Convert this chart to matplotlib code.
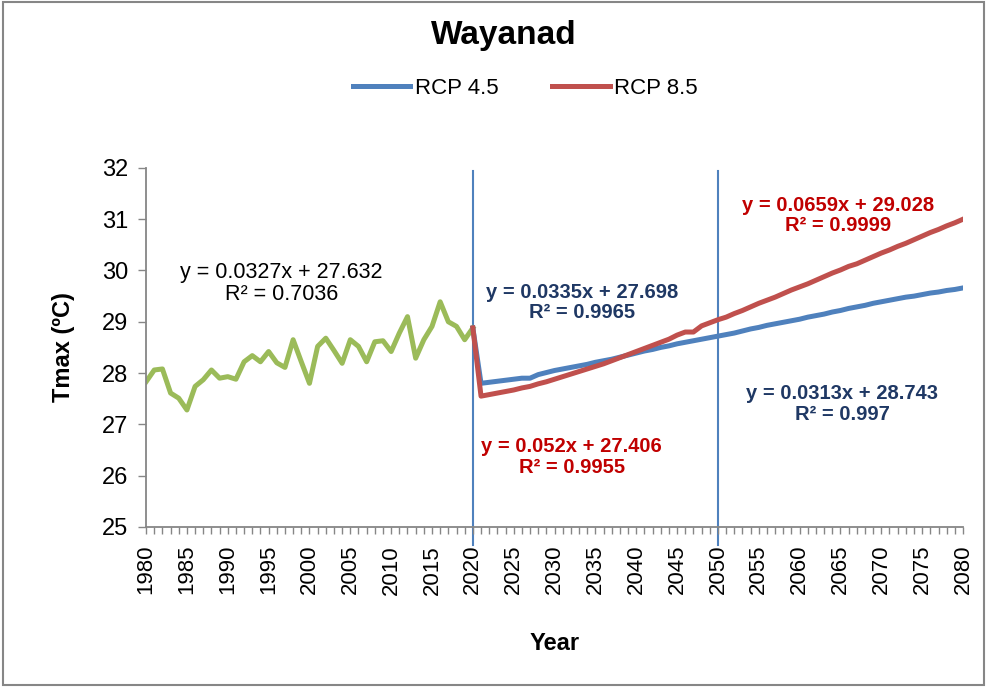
import matplotlib.pyplot as plt
from matplotlib.patches import Rectangle
from matplotlib.ticker import MultipleLocator

# 字体：优先用窄体，没有就退回 Liberation Sans
plt.rcParams['font.family'] = ['Liberation Sans', 'DejaVu Sans']
NARROW = ['Liberation Sans Narrow', 'Liberation Sans', 'DejaVu Sans']

# 历史观测 (1980-2020)
years_hist = list(range(1980, 2021))
tmax_hist = [27.83, 28.06, 28.08, 27.61, 27.51, 27.28, 27.74, 27.87, 28.06, 27.90,
             27.93, 27.88, 28.22, 28.34, 28.22, 28.42, 28.20, 28.11, 28.65, 28.22,
             27.80, 28.52, 28.68, 28.44, 28.19, 28.65, 28.52, 28.22, 28.61, 28.63,
             28.42, 28.78, 29.10, 28.29, 28.65, 28.91, 29.39, 29.00, 28.91, 28.65,
             28.88]

# 情景预测 (2020-2080)
years_proj = list(range(2020, 2081))
rcp45 = [28.88,
         27.80, 27.82, 27.84, 27.86, 27.88, 27.90, 27.90, 27.97, 28.01, 28.05,
         28.08, 28.11, 28.14, 28.17, 28.21, 28.24, 28.27, 28.31, 28.35, 28.39,
         28.43, 28.46, 28.50, 28.53, 28.57, 28.60, 28.63, 28.66, 28.69, 28.72,
         28.75, 28.78, 28.82, 28.86, 28.89, 28.93, 28.96, 28.99, 29.02, 29.05,
         29.09, 29.12, 29.15, 29.19, 29.22, 29.26, 29.29, 29.32, 29.36, 29.39,
         29.42, 29.45, 29.48, 29.50, 29.53, 29.56, 29.58, 29.61, 29.63, 29.66]
rcp85 = [28.88,
         27.55, 27.58, 27.61, 27.64, 27.67, 27.71, 27.74, 27.79, 27.83, 27.88,
         27.93, 27.98, 28.03, 28.08, 28.13, 28.18, 28.24, 28.30, 28.36, 28.42,
         28.48, 28.54, 28.60, 28.66, 28.74, 28.80, 28.80, 28.92, 28.98, 29.04,
         29.09, 29.16, 29.22, 29.29, 29.36, 29.42, 29.48, 29.55, 29.62, 29.68,
         29.74, 29.81, 29.88, 29.95, 30.01, 30.08, 30.13, 30.20, 30.27, 30.34,
         30.40, 30.47, 30.53, 30.60, 30.67, 30.74, 30.80, 30.87, 30.93, 31.00]

divider_years = [2020, 2050]

# 趋势线方程文字: (x, y, 文字, 颜色, 粗体, 字号)
eq_labels = [
    (1996.6, 29.75, 'y = 0.0327x + 27.632\nR² = 0.7036', 'black', 'normal', 15.5),
    (2033.4, 29.38, 'y = 0.0335x + 27.698\nR² = 0.9965', '#1F3864', 'bold', 14.5),
    (2065.2, 27.40, 'y = 0.0313x + 28.743\nR² = 0.997', '#1F3864', 'bold', 14.5),
    (2032.1, 26.36, 'y = 0.052x + 27.406\nR² = 0.9955', '#C00000', 'bold', 14.5),
    (2064.7, 31.07, 'y = 0.0659x + 29.028\nR² = 0.9999', '#C00000', 'bold', 14.5),
]

GREEN = '#9BBB59'
BLUE = '#4F81BD'
RED = '#C0504D'
GREY = '#868686'

fig = plt.figure(figsize=(9.87, 6.87), dpi=100)
ax = fig.add_axes([0.148, 0.233, 0.8277, 0.5226])

ax.plot(years_hist, tmax_hist, color=GREEN, linewidth=3.6, solid_joinstyle='round')
ax.plot(years_proj, rcp45, color=BLUE, linewidth=3.6, label='RCP 4.5', solid_joinstyle='round')
ax.plot(years_proj, rcp85, color=RED, linewidth=3.6, label='RCP 8.5', solid_joinstyle='round')

for yr in divider_years:
    ax.axvline(yr, ymin=-0.05, ymax=0.99, color=BLUE, linewidth=1.5, clip_on=False, zorder=1)

for x, y, txt, c, w, fs in eq_labels:
    ax.text(x, y, txt, ha='center', va='center', color=c, fontweight=w,
            fontsize=fs, linespacing=1.1)

ax.set_xlim(1980, 2080)
ax.set_ylim(25, 32)
ax.xaxis.set_major_locator(MultipleLocator(5))
ax.xaxis.set_minor_locator(MultipleLocator(1))
ax.yaxis.set_major_locator(MultipleLocator(1))
ax.tick_params(axis='x', which='both', direction='out', length=5, color=GREY, width=1)
ax.tick_params(axis='x', which='major', labelrotation=90, labelsize=16, pad=8)
ax.tick_params(axis='y', direction='out', length=6, color=GREY, width=1, labelsize=17, pad=7)

for s in ['top', 'right']:
    ax.spines[s].set_visible(False)
for s in ['left', 'bottom']:
    ax.spines[s].set_color(GREY)
    ax.spines[s].set_linewidth(1.3)

ax.set_ylabel('Tmax (ºC)', fontsize=17, fontweight='bold', family=NARROW, labelpad=19)
ax.set_xlabel('Year', fontsize=17, fontweight='bold', family=NARROW, labelpad=27)

fig.text(0.51, 0.948, 'Wayanad', ha='center', va='center', fontsize=24,
         fontweight='bold', family=NARROW)
fig.legend(loc='center', bbox_to_anchor=(0.532, 0.871), ncol=2, frameon=False,
           prop={'family': NARROW, 'size': 16}, handlelength=2.6, handletextpad=0.2,
           columnspacing=2.4)

# 图表外框
fig.patches.append(Rectangle((0.003, 0.003), 0.994, 0.994, transform=fig.transFigure,
                             fill=False, edgecolor=GREY, linewidth=1.5))

plt.savefig('out.png', dpi=100)
